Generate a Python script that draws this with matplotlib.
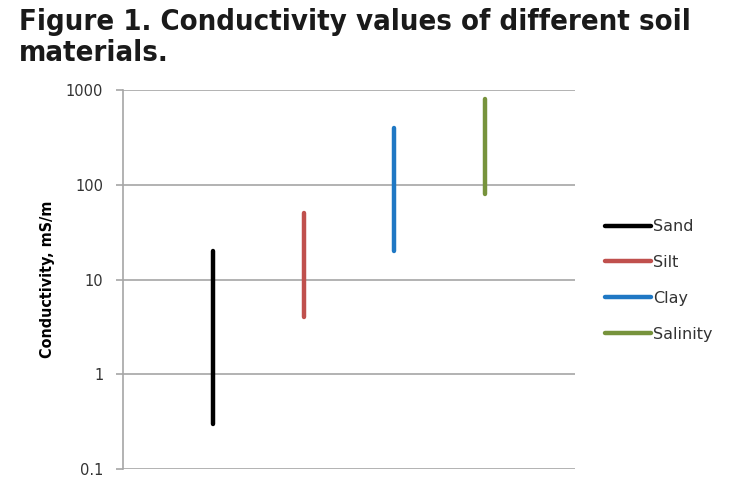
import matplotlib.pyplot as plt
import numpy as np

# data: conductivity range (mS/m) per soil material
materials = ['Sand', 'Silt', 'Clay', 'Salinity']
low_vals = [0.3, 4, 20, 80]
high_vals = [20, 50, 400, 800]
colors = ['#000000', '#C0504D', '#1F78C4', '#77933C']
yticks = [0.1, 1, 10, 100, 1000]
ytick_labels = ['0.1', '1', '10', '100', '1000']

fig = plt.figure(figsize=(7.35, 4.99), dpi=100)
ax = fig.add_axes([0.1669, 0.0601, 0.6154, 0.7595])

x = np.arange(1, len(materials) + 1)
for i in range(len(materials)):
    ax.plot([x[i], x[i]], [low_vals[i], high_vals[i]], color=colors[i],
            lw=3.2, solid_capstyle='round', label=materials[i], zorder=3)

ax.set_yscale('log')
ax.set_ylim(0.1, 1000)
ax.set_xlim(0, len(materials) + 1)
ax.set_yticks(yticks)
ax.set_yticklabels(ytick_labels)
ax.yaxis.set_minor_locator(plt.NullLocator())
ax.set_xticks([])
ax.grid(axis='y', color='#A6A6A6', lw=1.2)
for s in ['top', 'right', 'bottom']:
    ax.spines[s].set_visible(False)
ax.spines['left'].set_color('#A6A6A6')
ax.spines['left'].set_linewidth(1.2)
ax.tick_params(axis='y', length=5, width=1.2, color='#A6A6A6',
               labelsize=10.5, labelcolor='#333333', pad=9)

ax.set_ylabel('Conductivity, mS/m', fontsize=11.5, fontweight='bold',
              fontstretch='condensed', labelpad=8)

leg = ax.legend(loc='upper left', bbox_to_anchor=(1.034, 0.697), frameon=False,
                handlelength=2.9, handletextpad=0.1, labelspacing=1.3,
                prop={'size': 11.5})
for t in leg.get_texts():
    t.set_color('#333333')

fig.text(19 / 735, 1 - 8 / 499, 'Figure 1. Conductivity values of different soil\nmaterials.',
         ha='left', va='top', fontsize=21, fontweight='bold', linespacing=1.14,
         fontstretch='condensed', color='#1a1a1a')

plt.savefig('out.png', dpi=100)
